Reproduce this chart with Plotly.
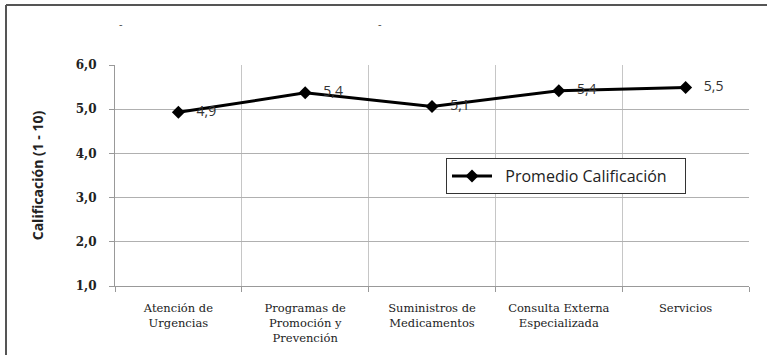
import plotly.graph_objects as go

categorias = ["Atención de<br>Urgencias", "Programas de<br>Promoción y<br>Prevención",
              "Suministros de<br>Medicamentos", "Consulta Externa<br>Especializada", "Servicios"]
promedio = [4.93, 5.37, 5.06, 5.42, 5.49]
etiquetas = ["   4,9", "   5,4", "   5,1", "   5,4", "   5,5"]
y_ticks = [1, 2, 3, 4, 5, 6]
y_tick_text = ["<b>1,0</b>", "<b>2,0</b>", "<b>3,0</b>", "<b>4,0</b>", "<b>5,0</b>", "<b>6,0</b>"]

W, H = 767, 355
L, R, T, B = 115, 18, 65, 69
pw, ph = W - L - R, H - T - B

fig = go.Figure()
fig.add_trace(go.Scatter(
    x=categorias, y=promedio, mode="lines+markers+text",
    name="\u00a0\u00a0Promedio Calificación\u00a0\u00a0\u00a0",
    line=dict(color="black", width=3),
    marker=dict(symbol="diamond", size=10, color="black"),
    text=etiquetas, textposition="middle right",
    textfont=dict(family="Open Sans", size=14, color="#333333"),
    cliponaxis=False,
))

def px_x(p):
    return (p - L) / pw

def px_y(p):
    return 1 - (p - T) / ph

fig.update_layout(
    width=W, height=H,
    margin=dict(l=L, r=R, t=T, b=B),
    paper_bgcolor="white", plot_bgcolor="white",
    separators=",.",
    showlegend=True,
    legend=dict(x=px_x(446), y=px_y(158), xanchor="left", yanchor="top",
                bgcolor="white", bordercolor="#333333", borderwidth=1,
                font=dict(family="Open Sans", size=16, color="#222222"),
                itemwidth=40),
    xaxis=dict(type="category", tickson="boundaries", showgrid=True,
               gridcolor="#c6c6c6", gridwidth=1, ticks="outside", ticklen=5,
               tickcolor="#999999", showline=True, linecolor="#999999",
               mirror=False, ticklabelstandoff=11, automargin=False,
               tickfont=dict(family="DejaVu Serif", size=11.5, color="#222222"),
               range=[-0.5, 4.5]),
    yaxis=dict(range=[1, 6], tickvals=y_ticks, ticktext=y_tick_text,
               showgrid=True, gridcolor="#b0b0b0", gridwidth=1,
               ticks="outside", ticklen=5, tickcolor="#999999",
               showline=True, linecolor="#999999", zeroline=False,
               ticklabelstandoff=10, automargin=False,
               tickfont=dict(family="DejaVu Serif", size=12, color="#222222"),
               title=dict(text="<b>Calificación (1 - 10)</b>", standoff=28,
                          font=dict(family="Open Sans", size=14,
                                    color="#222222"))),
    shapes=[
        dict(type="line", xref="paper", yref="paper",
             x0=px_x(6), x1=px_x(767), y0=px_y(5), y1=px_y(5),
             line=dict(color="#555555", width=2), layer="below"),
        dict(type="line", xref="paper", yref="paper",
             x0=px_x(6), x1=px_x(6), y0=px_y(5), y1=px_y(355),
             line=dict(color="#555555", width=2), layer="below"),
    ],
    annotations=[
        dict(text="-", xref="paper", yref="paper", x=px_x(117), y=px_y(14),
             showarrow=False, font=dict(size=11, color="#444444")),
        dict(text="-", xref="paper", yref="paper", x=px_x(380), y=px_y(14),
             showarrow=False, font=dict(size=11, color="#444444")),
    ],
)

fig.write_html("out.html")
